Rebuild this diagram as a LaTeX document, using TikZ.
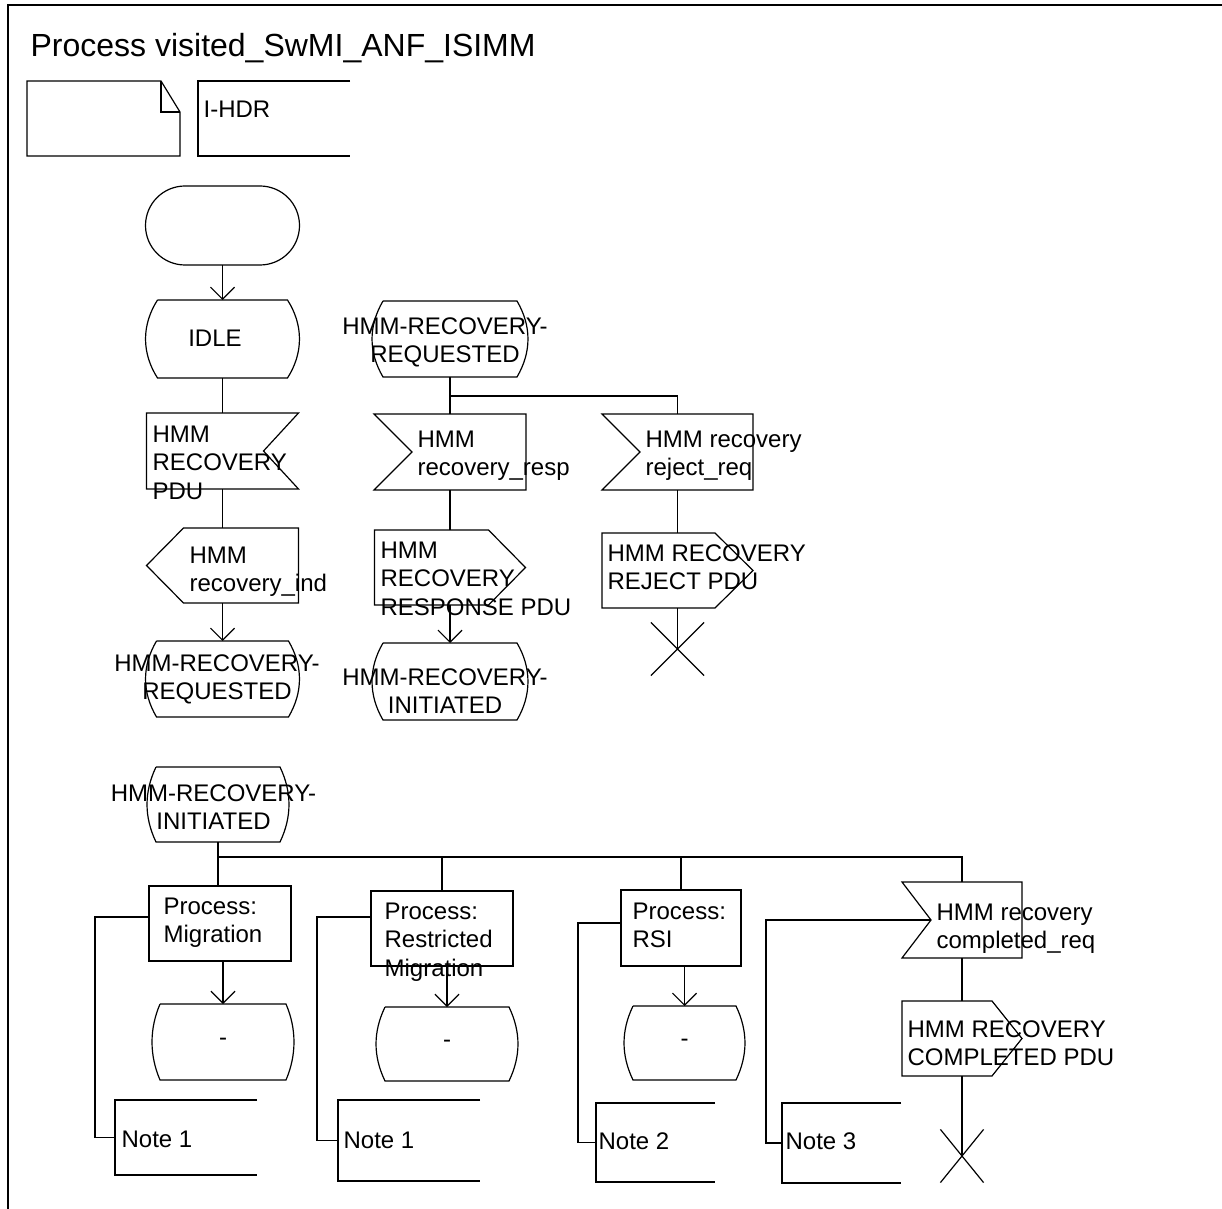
\documentclass[tikz,border=0pt]{standalone}
\usepackage{fontspec}
\setmainfont{Liberation Sans}
\usetikzlibrary{calc,shapes.misc,arrows.meta}

\tikzset{
  sym/.style 2 args={inner sep=0, outer sep=0, minimum width=#1*0.5pt, minimum height=#2*0.5pt},
  procbox/.style={draw},
  txt/.style={inner sep=0, align=left, anchor=north west, font=\fontsize{12}{14.25}\selectfont},
  ctxt/.style={txt, align=center, anchor=north},
  stopx/.style={cross out, draw, inner sep=0, minimum size=26pt},
  arr/.style={-{Straight Barb[length=6pt,width=12pt]}},
}

\begin{document}
\begin{tikzpicture}[x=0.5pt, y=-0.5pt, line width=0.6pt]
    \useasboundingbox (0,0) rectangle (1222,1209);

    % Frame and heading
    \draw (1222,5) -- (8,5) -- (8,1209);
    \node[txt, font=\fontsize{16}{19}\selectfont] (title) at (30,33) {Process visited\_SwMI\_ANF\_ISIMM};
    \node[sym={153}{75}] (txtsym) at (103.5,118.5) {};
    \node[sym={152}{75}] (hdr) at (274,118.5) {};
    \node[txt] (hdrt) at (203,100) {I-HDR};

    % Start and IDLE branch
    \node[sym={154}{79}, draw, rounded corners=19.75pt] (start) at (222.5,225.5) {};
    \node[sym={154}{78}] (idle) at (222.5,339) {};
    \node[txt, anchor=center] (idlet) at (215,338) {IDLE};
    \node[sym={152}{76}] (in1) at (222.5,451) {};
    \node[txt] (in1t) at (152,425) {HMM\\RECOVERY\\PDU};
    \node[sym={152}{75}] (out1) at (222.5,565.5) {};
    \node[txt] (out1t) at (189,546) {HMM\\recovery\_ind};
    \node[sym={154}{76}] (req1) at (222.5,679) {};
    \node[ctxt] (req1t) at (217,654) {HMM-RECOVERY-\\REQUESTED};

    % HMM-RECOVERY-REQUESTED branch
    \node[sym={156}{76}] (req2) at (450,339) {};
    \node[ctxt] (req2t) at (445,317) {HMM-RECOVERY-\\REQUESTED};
    \coordinate (br1) at (450,396);
    \node[sym={152}{76}] (in2) at (450,452) {};
    \node[txt] (in2t) at (417,430) {HMM\\recovery\_resp};
    \node[sym={151}{76}] (in3) at (677.5,452) {};
    \node[txt] (in3t) at (645,430) {HMM recovery\\reject\_req};
    \node[sym={151}{75}] (out2) at (450,567.5) {};
    \node[txt] (out2t) at (380,541) {HMM\\RECOVERY\\RESPONSE PDU};
    \node[sym={151}{75}] (out3) at (677.5,570.5) {};
    \node[txt] (out3t) at (607,544) {HMM RECOVERY\\REJECT PDU};
    \node[sym={156}{77}] (init1) at (450,681.5) {};
    \node[ctxt] (init1t) at (445,668) {HMM-RECOVERY-\\INITIATED};
    \node[stopx] (x1) at (677.5,649) {};

    % HMM-RECOVERY-INITIATED branch
    \node[sym={142}{75}] (init2) at (218,804.5) {};
    \node[ctxt] (init2t) at (213.5,784) {HMM-RECOVERY-\\INITIATED};
    \coordinate (br2) at (218,857);
    \node[sym={142}{75}, procbox] (p1) at (220,923.5) {};
    \node[txt] (p1t) at (163,897) {Process:\\Migration};
    \node[sym={142}{75}, procbox] (p2) at (442,928.5) {};
    \node[txt] (p2t) at (384,902) {Process:\\Restricted\\Migration};
    \node[sym={120}{76}, procbox] (p3) at (681,928) {};
    \node[txt] (p3t) at (632,902) {Process:\\RSI};
    \node[sym={120}{76}] (in4) at (962,920) {};
    \node[txt] (in4t) at (936,903) {HMM recovery\\completed\_req};
    \node[sym={120}{75}] (out4) at (962,1038.5) {};
    \node[txt] (out4t) at (907,1020) {HMM RECOVERY\\COMPLETED PDU};
    \node[sym={142}{76}, font=\fontsize{12}{14.25}\selectfont] (dash1) at (223,1042) {-};
    \node[sym={142}{74}, font=\fontsize{12}{14.25}\selectfont] (dash2) at (447,1044) {-};
    \node[sym={121}{74}, font=\fontsize{12}{14.25}\selectfont] (dash3) at (684.5,1043) {-};
    \node[stopx, minimum width=21pt] (x2) at (962,1156) {};

    % Notes
    \node[sym={142}{75}] (n1) at (186,1137.5) {};
    \node[txt] (n1t) at (121,1130) {Note 1};
    \node[sym={142}{81}] (n2) at (409,1140.5) {};
    \node[txt] (n2t) at (343,1131) {Note 1};
    \node[sym={119}{79}] (n3) at (655.5,1142.5) {};
    \node[txt] (n3t) at (598,1132) {Note 2};
    \node[sym={119}{80}] (n4) at (841.5,1143) {};
    \node[txt] (n4t) at (785,1132) {Note 3};

    % State outlines
    \foreach \n/\i in {idle/12, req1/11, req2/11, init1/11, init2/9, dash1/8, dash2/9, dash3/9}
      \draw ($(\n.north west)+(\i,0)$) -- ($(\n.north east)+(-\i,0)$)
        .. controls +(1.33*\i,25) and +(1.33*\i,-25) .. ($(\n.south east)+(-\i,0)$)
        -- ($(\n.south west)+(\i,0)$)
        .. controls +(-1.33*\i,-25) and +(-1.33*\i,25) .. ($(\n.north west)+(\i,0)$);

    % Input outlines
    \draw (in1.north west) -- (in1.north east) -- ($(in1.east)+(-35,0)$) -- (in1.south east) -- (in1.south west) -- cycle;
    \foreach \n/\d in {in2/38, in3/38, in4/29}
      \draw (\n.north west) -- (\n.north east) -- (\n.south east) -- (\n.south west) -- ($(\n.west)+(\d,0)$) -- cycle;

    % Output outlines
    \draw ($(out1.north west)+(37,0)$) -- (out1.north east) -- (out1.south east) -- ($(out1.south west)+(37,0)$) -- (out1.west) -- cycle;
    \foreach \n/\d in {out2/37, out3/38, out4/30}
      \draw (\n.north west) -- ($(\n.north east)+(-\d,0)$) -- (\n.east) -- ($(\n.south east)+(-\d,0)$) -- (\n.south west) -- cycle;

    % Comment brackets and text symbol
    \foreach \n in {hdr, n1, n2, n3, n4}
      \draw (\n.north east) -- (\n.north west) -- (\n.south west) -- (\n.south east);
    \draw (txtsym.north west) -- ($(txtsym.north east)+(-19,0)$) -- ($(txtsym.north east)+(0,31)$) -- (txtsym.south east) -- (txtsym.south west) -- cycle;
    \draw ($(txtsym.north east)+(-19,0)$) -- ($(txtsym.north east)+(-19,31)$) -- ($(txtsym.north east)+(0,31)$);

    % Flow lines
    \draw[arr] (start) -- (idle);
    \draw (idle) -- (in1);
    \draw (in1) -- (out1);
    \draw[arr] (out1) -- (req1);
    \draw (req2) -- (in2);
    \draw (br1) -| (in3.north);
    \draw (in2) -- (out2);
    \draw[arr] (out2) -- (init1);
    \draw (in3) -- (out3);
    \draw (out3.south) -- (x1.center);
    \draw (init2.south) -- (init2.south |- p1.north);
    \draw (br2) -| (in4.north);
    \draw (p2.north) -- (p2.north |- br2);
    \draw (p3.north) -- (p3.north |- br2);
    \draw[arr] (dash1.north |- p1.south) -- (dash1.north);
    \draw[arr] (dash2.north |- p2.south) -- (dash2.north);
    \draw[arr] (dash3.north |- p3.south) -- (dash3.north);
    \draw (in4) -- (out4);
    \draw (out4.south) -- (x2.center);

    % Note connectors
    \draw ($(p1.west)+(0,-6.5)$) -- ++(-54,0) |- (n1.west);
    \draw ($(p2.west)+(0,-11.5)$) -- ++(-54,0) |- (n2.west);
    \draw ($(p3.west)+(0,-5)$) -- ++(-43,0) |- (n3.west);
    \draw ($(in4.west)+(29,0)$) -- ++(-165,0) |- (n4.west);
\end{tikzpicture}
\end{document}
